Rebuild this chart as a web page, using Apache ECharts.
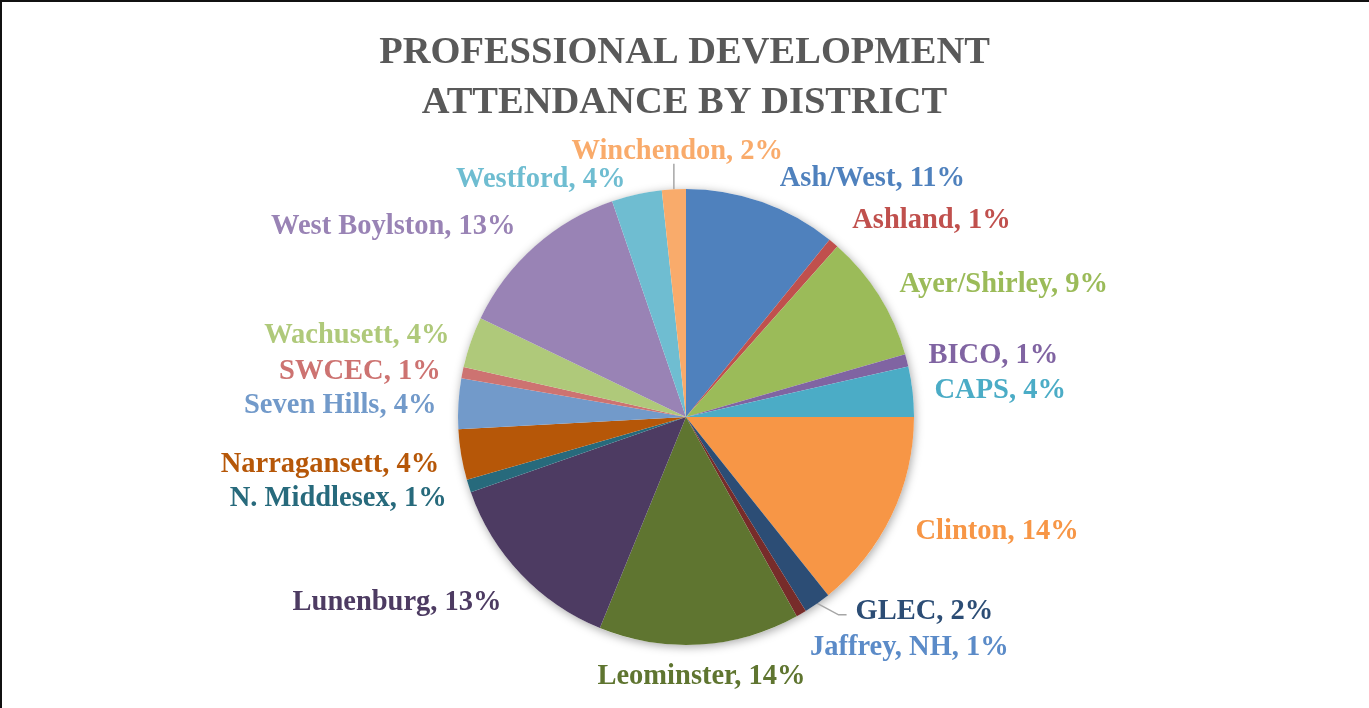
<!DOCTYPE html>
<html><head><meta charset="utf-8">
<script src="https://cdn.jsdelivr.net/npm/echarts@6/dist/echarts.min.js"></script>
<style>
html,body{margin:0;padding:0;background:#fff;overflow:hidden}
#chart{position:absolute;left:0;top:0;width:1369px;height:708px}
#frame{position:absolute;left:0;top:0;width:1369px;height:708px;border-left:2px solid #111;border-top:2px solid #111;box-sizing:border-box;pointer-events:none}
</style></head>
<body><div id="chart"></div><div id="frame"></div>
<script>
// Data (slice sizes, in degrees of the pie)
const districts = ['Ash/West','Ashland','Ayer/Shirley','BICO','CAPS','Clinton','GLEC','Jaffrey, NH','Leominster','Lunenburg','N. Middlesex','Narragansett','Seven Hills','SWCEC','Wachusett','West Boylston','Westford','Winchendon'];
const shares = [39.0, 2.6, 32.4, 3.2, 12.8, 51.4, 6.9, 2.65, 51.25, 48.5, 3.3, 12.9, 12.9, 2.9, 13.0, 45.4, 12.8, 6.1];
const titleLines = ['PROFESSIONAL DEVELOPMENT', 'ATTENDANCE BY DISTRICT'];

// Styles
const sliceColors = ['#4F81BD','#C0504D','#9BBB59','#8064A2','#4BACC6','#F79646','#2C4D75','#772C2A','#5F7530','#4D3B62','#276A7C','#B65708','#729ACA','#CD7371','#AFC97A','#9983B5','#6FBDD1','#F9AB6B'];
const labelColors = ['#4F81BD','#C0504D','#9BBB59','#8064A2','#4BACC6','#F79646','#2C4D75','#5B8BC8','#5F7530','#4D3B62','#276A7C','#B65708','#729ACA','#CD7371','#AFC97A','#9983B5','#6FBDD1','#F9AB6B'];
const leaderShown = ['GLEC','Winchendon'];
// label nudges (px) relative to the library's outside placement
const labelShift = {
  'Ash/West':[0,-10], 'Ashland':[0,-12], 'Ayer/Shirley':[0,-3], 'BICO':[0,-1], 'CAPS':[0,1],
  'Clinton':[0,10], 'GLEC':[4,-3], 'Jaffrey, NH':[0,2], 'Leominster':[-116,0], 'Lunenburg':[4,19],
  'N. Middlesex':[0,8], 'Narragansett':[0,7], 'Seven Hills':[0,3], 'SWCEC':[0,2], 'Wachusett':[0,-2],
  'West Boylston':[0,-11], 'Westford':[67,-27], 'Winchendon':[123,-24]
};

const chart = echarts.init(document.getElementById('chart'), null, {renderer:'canvas'});
const FONT = '"Liberation Serif", "DejaVu Serif", serif';

const data = districts.map((n, i) => ({
  name: n,
  value: shares[i],
  itemStyle: {color: sliceColors[i]},
  label: {color: labelColors[i]},
  labelLine: {show: leaderShown.indexOf(n) >= 0}
}));

chart.setOption({
  animation: false,
  backgroundColor: '#fff',
  title: {
    text: titleLines.join('\n'),
    left: 'center',
    top: 23,
    textStyle: {fontFamily: FONT, fontWeight: 'bold', fontSize: 38.5, color: '#595959', lineHeight: 50}
  },
  series: [
    {
      type: 'pie', silent: true, center: [686, 417], radius: 228,
      label: {show: false}, labelLine: {show: false},
      data: [{value: 1, itemStyle: {color: '#fff', shadowBlur: 10, shadowColor: 'rgba(0,0,0,0.35)', shadowOffsetX: 1, shadowOffsetY: 2}}],
      z: 1
    },
    {
      type: 'pie', center: [686, 417], radius: 228, startAngle: 90, clockwise: true,
      avoidLabelOverlap: true,
      percentPrecision: 2,
      label: {
        show: true, position: 'outside',
        fontFamily: FONT, fontWeight: 'bold', fontSize: 28.5,
        formatter: p => p.name + ', ' + Math.round(p.percent) + '%'
      },
      labelLine: {length: 14, length2: 8, lineStyle: {color: '#A6A6A6', width: 1.5}},
      labelLayout: function (p) {
        const name = districts[p.dataIndex];
        const s = labelShift[name] || [0, 0];
        const out = {dx: s[0], dy: s[1]};
        if (name === 'Winchendon' && p.labelLinePoints) {
          const a = p.labelLinePoints[0];
          const yEnd = p.labelRect.y + p.labelRect.height + s[1] - 2;
          out.labelLinePoints = [a, [a[0], (a[1] + yEnd) / 2], [a[0], yEnd]];
        }
        return out;
      },
      itemStyle: {borderWidth: 0},
      data: data,
      z: 2
    }
  ]
});
</script></body></html>
